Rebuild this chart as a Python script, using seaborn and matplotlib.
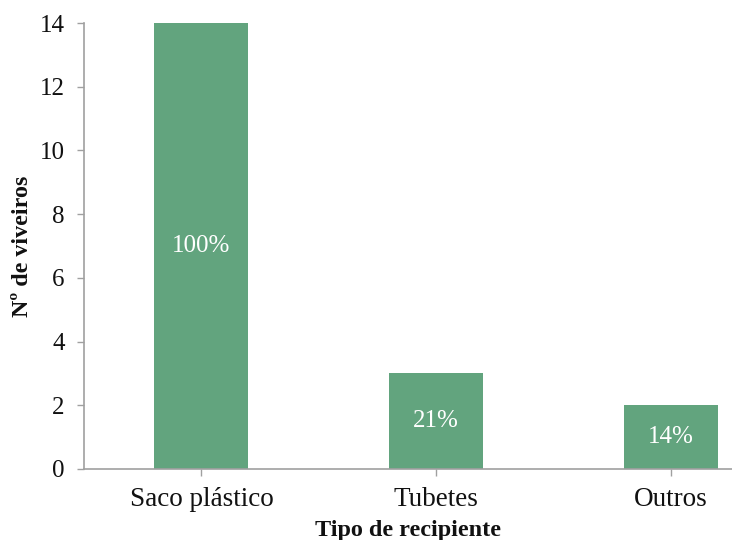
import matplotlib
matplotlib.use("Agg")
import matplotlib.pyplot as plt
import seaborn as sns
import pandas as pd

categories = ["Saco plástico", "Tubetes", "Outros"]
values = [14, 3, 2]
percent_labels = ["100%", "21%", "14%"]
y_ticks = [0, 2, 4, 6, 8, 10, 12, 14]

sns.set_theme(style="white")
plt.rcParams["font.family"] = ["Liberation Serif", "DejaVu Serif"]

df = pd.DataFrame({"cat": categories, "val": values})

fig = plt.figure(figsize=(7.32, 5.40), dpi=100)
ax = fig.add_axes([0.1148, 0.1315, 0.8852, 0.8259])

sns.barplot(data=df, x="cat", y="val", color="#62A47E", saturation=1,
            width=0.40, ax=ax, edgecolor="none")

ax.bar_label(ax.containers[0], labels=percent_labels, label_type="center",
             color="white", fontsize=18)

ax.set_ylim(0, 14)
ax.set_xlim(-0.5, 2.26)
ax.set_yticks(y_ticks)
ax.tick_params(axis="both", which="major", direction="out", length=5,
               width=1, color="#A0A0A0", labelcolor="#111111",
               bottom=True, left=True)
ax.tick_params(axis="y", labelsize=18, pad=9)
ax.tick_params(axis="x", labelsize=19.5, pad=8)

for s in ["top", "right"]:
    ax.spines[s].set_visible(False)
for s in ["left", "bottom"]:
    ax.spines[s].set_color("#A0A0A0")
    ax.spines[s].set_linewidth(1.2)

ax.set_xlabel("Tipo de recipiente", fontsize=17.4, fontweight="bold",
              color="#111111", labelpad=6)
ax.set_ylabel("Nº de viveiros", fontsize=17.3, fontweight="bold",
              color="#111111", rotation=90, va="center", ha="center")
ax.yaxis.set_label_coords(-0.0957, 0.5)

fig.savefig("out.png", dpi=100)
